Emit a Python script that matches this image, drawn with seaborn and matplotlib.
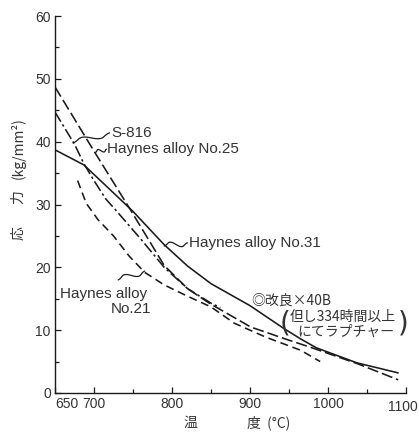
import matplotlib
matplotlib.use("Agg")
import matplotlib.pyplot as plt
import matplotlib.transforms as mtrans
import seaborn as sns
import pandas as pd
import numpy as np

# ---- data ----
no31_t = [650, 687, 722, 750, 790, 820, 850, 900, 943, 965, 985, 1000, 1037, 1090]
no31_s = [38.7, 36.3, 32.2, 28.9, 23.6, 20.2, 17.4, 13.9, 10.3, 8.6, 7.2, 6.5, 4.8, 3.2]

no25_t = [650, 700, 747, 790, 820, 849, 901, 950, 977, 1000, 1037, 1090]
no25_s = [48.7, 38.5, 29.1, 20.3, 16.6, 14.2, 10.5, 8.4, 7.3, 6.3, 4.7, 2.1]

s816_t = [650, 675, 687, 700, 715, 730, 760, 790, 820, 850, 862]
s816_s = [44.7, 39.6, 36.5, 33.8, 30.9, 28.8, 24.5, 20.0, 16.6, 14.3, 13.6]

no21_t = [679, 690, 705, 725, 745, 765, 790, 820, 850, 880, 920, 965, 990]
no21_s = [33.8, 30.2, 27.6, 25.0, 21.8, 19.2, 17.2, 15.4, 13.7, 11.1, 8.9, 6.8, 5.0]

x_ticks = [650, 700, 800, 900, 1000, 1100]
y_ticks = [0, 10, 20, 30, 40, 50, 60]

frames = []
for name, t, s in [("Haynes alloy No.31", no31_t, no31_s),
                   ("Haynes alloy No.25", no25_t, no25_s),
                   ("S-816", s816_t, s816_s),
                   ("Haynes alloy No.21", no21_t, no21_s)]:
    frames.append(pd.DataFrame({"temp": t, "stress": s, "alloy": name}))
df = pd.concat(frames, ignore_index=True)

sns.set_theme(style="white")
plt.rcParams["font.family"] = ["Liberation Sans", "Noto Sans CJK JP", "DejaVu Sans"]
cjk = ["Noto Sans CJK JP", "DejaVu Sans"]
ink = "#1a1a1a"
txt = "#333333"
tick_fs = 10

fig = plt.figure(figsize=(4.19, 4.32), dpi=100)
ax = fig.add_axes([55/419, 1-393/432, (406-55)/419, (393-16)/432])

dashes = {"Haynes alloy No.31": "",
          "Haynes alloy No.25": (7, 2.5),
          "S-816": (7, 2, 1.5, 2),
          "Haynes alloy No.21": (5, 3)}
sns.lineplot(data=df, x="temp", y="stress", hue="alloy", style="alloy",
             dashes=dashes, palette=[ink]*4, linewidth=1.15, sort=False,
             legend=False, ax=ax)

ax.set_xlim(650, 1100)
ax.set_ylim(0, 60)
ax.set_xticks(x_ticks)
ax.set_xticks([750, 850, 950, 1050], minor=True)
ax.set_yticks(y_ticks)
ax.set_yticks([5, 15, 25, 35, 45, 55], minor=True)
# last x label drawn separately (shifted a little left to stay inside the canvas)
ax.set_xticklabels([str(v) for v in x_ticks[:-1]] + [""], fontsize=tick_fs, color=txt)
ax.set_yticklabels([str(v) for v in y_ticks], fontsize=tick_fs, color=txt)
ax.get_xticklabels()[0].set_ha("left")
ax.text(x_ticks[-1], 0, str(x_ticks[-1]), ha="center", va="top",
        fontsize=tick_fs, color=txt,
        transform=ax.get_xaxis_transform() +
        mtrans.ScaledTranslation(-3/100, -7/100, fig.dpi_scale_trans))
ax.tick_params(which="both", direction="in", length=4, width=0.9, color=ink,
               left=True, bottom=True, pad=3)
ax.tick_params(which="minor", length=3)
for sp in ["top", "right"]:
    ax.spines[sp].set_visible(False)
for sp in ["left", "bottom"]:
    ax.spines[sp].set_color(ink)
    ax.spines[sp].set_linewidth(1.0)
ax.set_xlabel("")
ax.set_ylabel("")


def squiggle(p_tip, p_text, amp=3.0):
    """small wavy leader between two data points (drawn in pixel space)"""
    a = ax.transData.transform(p_tip)
    b = ax.transData.transform(p_text)
    d = b - a
    L = np.hypot(*d)
    u = d / L
    n = np.array([-u[1], u[0]])
    s = np.linspace(0, 1, 40)
    off = amp * np.sin(2 * np.pi * s) * np.clip(np.sin(np.pi * s) * 1.6, 0, 1)
    pts = a[None, :] + s[:, None] * d[None, :] + off[:, None] * n[None, :]
    dp = ax.transData.inverted().transform(pts)
    ax.plot(dp[:, 0], dp[:, 1], color=ink, lw=0.9)


lbl = dict(fontsize=11, color=txt)
ax.text(722, 41.4, "S-816", va="center", ha="left", **lbl)
squiggle((673, 39.8), (720, 41.4))
ax.text(717, 38.8, "Haynes alloy No.25", va="center", ha="left", **lbl)
squiggle((702, 38.3), (716, 38.8), amp=2)
ax.text(822, 23.9, "Haynes alloy No.31", va="center", ha="left", **lbl)
squiggle((790, 23.4), (820, 23.9))
squiggle((765, 19.4), (731, 18.0))
ax.text(768, 15.8, "Haynes alloy", ha="right", va="center", **lbl)
ax.text(773, 13.4, "No.21", ha="right", va="center", **lbl)

ax.text(902, 14.7, "◎改良×40B", ha="left", va="center", fontsize=10,
        color=txt, family=cjk)
ax.text(1087, 12.1, "但し334時間以上", ha="right", va="center", fontsize=10,
        color=txt, family=cjk)
ax.text(1085, 9.7, "にてラプチャー", ha="right", va="center", fontsize=10,
        color=txt, family=cjk)
ax.text(945, 11.0, "(", ha="center", va="center", fontsize=20, color=txt,
        family=["DejaVu Sans"])
ax.text(1096, 11.0, ")", ha="center", va="center", fontsize=20, color=txt,
        family=["DejaVu Sans"])

for label, ypx in [("応", 233), ("力", 197), ("(kg/mm²)", 148)]:
    fig.text(18/419, 1-ypx/432, label, rotation=90, ha="center",
             va="center", fontsize=10, color=txt, family=cjk)
fig.text(190/419, 1-423/432, "温", ha="center", va="center", fontsize=10,
         color=txt, family=cjk)
fig.text(247/419, 1-423/432, "度  (°C)", ha="left", va="center", fontsize=10,
         color=txt, family=cjk)

fig.savefig("out.png", dpi=100, facecolor="white")
